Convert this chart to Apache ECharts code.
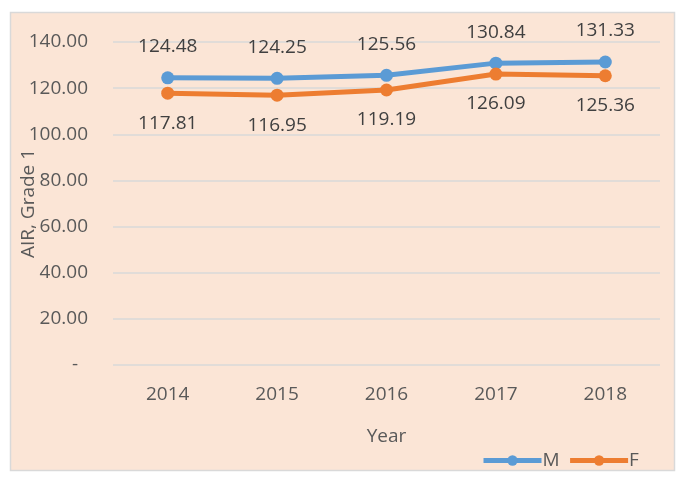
<!DOCTYPE html>
<html><head><meta charset="utf-8">
<script src="https://cdn.jsdelivr.net/npm/echarts@6/dist/echarts.min.js"></script>
<style>html,body{margin:0;padding:0;background:#fff}#c{width:677px;height:482px}</style>
</head><body><div id="c"></div>
<script>
const years = ['2014','2015','2016','2017','2018'];
const seriesM = [124.48,124.25,125.56,130.84,131.33];
const seriesF = [117.81,116.95,119.19,126.09,125.36];
const yTicks = [0,20,40,60,80,100,120,140];
const FONT = '"Open Sans", sans-serif';
const FS = 19;
const chart = echarts.init(document.getElementById('c'), null, {renderer:'canvas'});
chart.setOption({
  backgroundColor:'#ffffff',
  animation:false,
  graphic:[{type:'rect',z:-10,shape:{x:10.5,y:12.5,width:664,height:458},style:{fill:'#FBE5D6',stroke:'#D9D9D9',lineWidth:1.5}}],
  grid:{left:113,right:17,top:42,bottom:117,containLabel:false,outerBoundsMode:'none'},
  textStyle:{fontFamily:FONT},
  legend:{left:476,top:446,itemWidth:58,itemHeight:13,itemGap:8,
    lineStyle:{width:5},
    textStyle:{fontFamily:FONT,fontSize:FS,color:'#595959',padding:[0,0,0,-4]},
    data:['M','F']},
  xAxis:{type:'category',data:years,
    name:'Year',nameLocation:'middle',nameGap:62,nameMoveOverlap:false,
    nameTextStyle:{fontFamily:FONT,fontSize:FS,color:'#595959'},
    axisLine:{show:false},axisTick:{show:false},
    axisLabel:{fontFamily:FONT,fontSize:FS,color:'#595959',margin:20}},
  yAxis:{type:'value',min:yTicks[0],max:yTicks[yTicks.length-1],interval:20,
    name:'AIR, Grade 1',nameLocation:'middle',nameGap:75,nameRotate:90,nameMoveOverlap:false,
    nameTextStyle:{fontFamily:FONT,fontSize:FS,color:'#595959'},
    axisLine:{show:false},axisTick:{show:false},
    splitLine:{lineStyle:{color:'#D9D9D9',width:1.5}},
    axisLabel:{fontFamily:FONT,fontSize:FS,color:'#595959',margin:25,
      formatter:v=> v===0 ? '-  ' : v.toFixed(2)}},
  series:[
    {name:'M',type:'line',data:seriesM,symbol:'circle',symbolSize:13,
      lineStyle:{width:5,color:'#5B9BD5'},itemStyle:{color:'#5B9BD5'},
      label:{show:true,position:'top',distance:15,fontFamily:FONT,fontSize:FS,color:'#404040',formatter:p=>p.value.toFixed(2)}},
    {name:'F',type:'line',data:seriesF,symbol:'circle',symbolSize:13,
      lineStyle:{width:5,color:'#ED7D31'},itemStyle:{color:'#ED7D31'},
      label:{show:true,position:'bottom',distance:14,fontFamily:FONT,fontSize:FS,color:'#404040',formatter:p=>p.value.toFixed(2)}}
  ]
});
</script></body></html>
